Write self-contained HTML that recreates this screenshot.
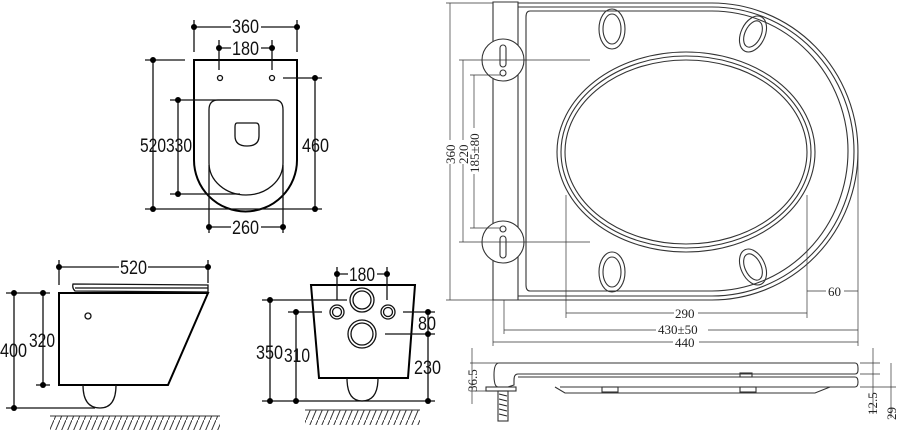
<!DOCTYPE html>
<html><head><meta charset="utf-8"><style>
html,body{margin:0;padding:0;background:#fff;}
svg{display:block;}
.d{stroke:#111;stroke-width:1.3;fill:none}
.b{stroke:#000;stroke-width:2;fill:none}
.t{font-family:"Liberation Sans",sans-serif;font-size:19px;fill:#111;}
.s{font-family:"Liberation Serif",serif;font-size:13px;fill:#222;}
.g{stroke:#333;stroke-width:0.7;fill:none}
.f{stroke:#333;stroke-width:1.1;fill:none}
</style></head><body>
<svg width="900" height="431" viewBox="0 0 900 431" xmlns="http://www.w3.org/2000/svg">
<defs>
<pattern id="h" width="6" height="14" patternUnits="userSpaceOnUse"><line x1="6" y1="0" x2="0" y2="14" stroke="#333" stroke-width="1"/></pattern>
</defs>
<!-- TOP LEFT VIEW -->
<path class="b" d="M194,60 H297 V160 A51.5,51.5 0 0 1 194,160 Z"/>
<path class="d" d="M218,100 H275 Q283,100 283,110 V163 A37,32 0 0 1 209,163 V110 Q209,100 218,100 Z"/>
<path class="d" d="M237,123 H256 Q259,123 259,127 V136 Q259,146 247,146 Q235,146 235,136 V127 Q235,123 237,123Z"/>
<circle cx="220" cy="78" r="2.5" class="d"/><circle cx="272" cy="78" r="2.5" class="d"/>
<g class="d">
<line x1="194" y1="27" x2="297" y2="27"/><line x1="194" y1="20" x2="194" y2="52"/><line x1="297" y1="20" x2="297" y2="52"/>
<line x1="219" y1="48" x2="272" y2="48"/><line x1="219" y1="40" x2="219" y2="70"/><line x1="272" y1="40" x2="272" y2="70"/>
<line x1="153" y1="60" x2="153" y2="209"/><line x1="145" y1="60" x2="185" y2="60"/><line x1="145" y1="209" x2="322" y2="209"/>
<line x1="178" y1="100" x2="178" y2="194"/><line x1="170" y1="100" x2="240" y2="100"/><line x1="170" y1="194" x2="240" y2="194"/>
<line x1="315" y1="78" x2="315" y2="209"/><line x1="283" y1="78" x2="322" y2="78"/>
<line x1="209" y1="227" x2="283" y2="227"/><line x1="209" y1="165" x2="209" y2="233"/><line x1="283" y1="165" x2="283" y2="233"/>
</g>
<g fill="#000">
<circle cx="194" cy="27" r="3"/><circle cx="297" cy="27" r="3"/><circle cx="219" cy="48" r="3"/><circle cx="272" cy="48" r="3"/>
<circle cx="153" cy="60" r="3"/><circle cx="153" cy="209" r="3"/><circle cx="178" cy="100" r="3"/><circle cx="178" cy="194" r="3"/>
<circle cx="315" cy="78" r="3"/><circle cx="315" cy="209" r="3"/><circle cx="209" cy="227" r="3"/><circle cx="283" cy="227" r="3"/>
</g>
<g class="t">
<rect x="231" y="18" width="30" height="18" fill="#fff"/><text x="232" y="33" textLength="27" lengthAdjust="spacingAndGlyphs">360</text>
<rect x="231" y="40" width="30" height="16" fill="#fff"/><text x="232" y="55" textLength="27" lengthAdjust="spacingAndGlyphs">180</text>
<text x="140" y="152" textLength="26" lengthAdjust="spacingAndGlyphs">520</text>
<text x="166" y="152" textLength="26" lengthAdjust="spacingAndGlyphs">330</text>
<text x="302" y="152" textLength="27" lengthAdjust="spacingAndGlyphs">460</text>
<rect x="231" y="219" width="30" height="16" fill="#fff"/><text x="232" y="234" textLength="27" lengthAdjust="spacingAndGlyphs">260</text>
</g>
<!-- SIDE VIEW -->
<path class="b" d="M59,293 H208 L168,385 H59 Z"/>
<path class="d" d="M73,284 L208,285 L208,292 L75,291 Q72,288 73,284Z"/><line class="d" x1="75" y1="288" x2="208" y2="288"/>
<path class="d" d="M83,385 Q83,408 100,408 Q116,408 116,385"/>
<circle cx="88" cy="316" r="3" class="d"/>
<g class="d">
<line x1="59" y1="267" x2="208" y2="267"/><line x1="59" y1="260" x2="59" y2="285"/><line x1="208" y1="260" x2="208" y2="283"/>
<line x1="14" y1="293" x2="14" y2="408"/><line x1="6" y1="293" x2="50" y2="293"/><line x1="6" y1="408" x2="95" y2="408"/>
<line x1="43" y1="293" x2="43" y2="385"/><line x1="36" y1="385" x2="50" y2="385"/>
</g>
<g fill="#000"><circle cx="59" cy="267" r="3"/><circle cx="208" cy="267" r="3"/><circle cx="14" cy="293" r="3"/><circle cx="14" cy="408" r="3"/><circle cx="43" cy="293" r="3"/><circle cx="43" cy="385" r="3"/></g>
<line x1="50" y1="416" x2="220" y2="416" stroke="#333"/><rect x="50" y="416" width="170" height="14" fill="url(#h)"/>
<g class="t"><rect x="119" y="258" width="29" height="18" fill="#fff"/><text x="120" y="274" textLength="27" lengthAdjust="spacingAndGlyphs">520</text>
<text x="0" y="357" textLength="27" lengthAdjust="spacingAndGlyphs">400</text>
<text x="29" y="347" textLength="26" lengthAdjust="spacingAndGlyphs">320</text></g>
<!-- FRONT VIEW -->
<path class="b" d="M311,285 H415 L408,378 H319 Z"/>
<path class="d" d="M347,378 Q347,401 362,401 Q378,401 378,378"/>
<g class="d"><circle cx="362" cy="300" r="12"/><circle cx="362" cy="300" r="9"/><circle cx="337" cy="312" r="7"/><circle cx="337" cy="312" r="4.5"/><circle cx="388" cy="312" r="7"/><circle cx="388" cy="312" r="4.5"/><circle cx="362" cy="334" r="14"/><circle cx="362" cy="334" r="11"/></g>
<g class="d">
<line x1="337" y1="274" x2="387" y2="274"/><line x1="337" y1="267" x2="337" y2="300"/><line x1="387" y1="267" x2="387" y2="300"/>
<line x1="270" y1="300" x2="270" y2="401"/><line x1="262" y1="300" x2="347" y2="300"/><line x1="262" y1="401" x2="435" y2="401"/>
<line x1="296" y1="312" x2="296" y2="401"/><line x1="288" y1="312" x2="322" y2="312"/>
<line x1="428" y1="312" x2="428" y2="334"/><line x1="403" y1="312" x2="435" y2="312"/><line x1="385" y1="334" x2="435" y2="334"/><line x1="428" y1="334" x2="428" y2="401"/>
</g>
<g fill="#000"><circle cx="337" cy="274" r="3"/><circle cx="387" cy="274" r="3"/><circle cx="270" cy="300" r="3"/><circle cx="270" cy="401" r="3"/><circle cx="296" cy="312" r="3"/><circle cx="296" cy="401" r="3"/><circle cx="428" cy="312" r="3"/><circle cx="428" cy="334" r="3"/><circle cx="428" cy="401" r="3"/></g>
<line x1="305" y1="410" x2="420" y2="410" stroke="#333"/><rect x="305" y="410" width="115" height="15" fill="url(#h)"/>
<g class="t"><rect x="348" y="266" width="29" height="16" fill="#fff"/><text x="349" y="281" textLength="26" lengthAdjust="spacingAndGlyphs">180</text>
<text x="256" y="359" textLength="27" lengthAdjust="spacingAndGlyphs">350</text>
<text x="284" y="362" textLength="26" lengthAdjust="spacingAndGlyphs">310</text>
<text x="418" y="330" textLength="18" lengthAdjust="spacingAndGlyphs">80</text>
<text x="414" y="374" textLength="27" lengthAdjust="spacingAndGlyphs">230</text></g>
<!-- SEAT TOP VIEW -->
<g class="f">
<path d="M493,2 H518 V300 H493 Z"/>
<path d="M518,3 H712 A146,148.5 0 0 1 712,300 H518"/>
<path d="M518,7 H712 A142,144.5 0 0 1 712,296 H518"/>
<path d="M530,11 H712 A136,140 0 0 1 712,291 H530 Q526,291 526,285 V17 Q526,11 530,11Z"/>
<ellipse cx="686" cy="152" rx="129" ry="100"/><ellipse cx="686" cy="152" rx="125" ry="96"/><ellipse cx="686" cy="152" rx="121" ry="92"/>
<ellipse cx="612" cy="29" rx="13" ry="20"/><ellipse cx="612" cy="29" rx="9" ry="15"/>
<ellipse cx="753" cy="34" rx="12" ry="19" transform="rotate(25 753 34)"/><ellipse cx="753" cy="34" rx="8" ry="14" transform="rotate(25 753 34)"/>
<ellipse cx="612" cy="272" rx="13" ry="20"/><ellipse cx="612" cy="272" rx="9" ry="15"/>
<ellipse cx="753" cy="267" rx="12" ry="19" transform="rotate(-25 753 267)"/><ellipse cx="753" cy="267" rx="8" ry="14" transform="rotate(-25 753 267)"/>
<circle cx="503" cy="60" r="21" fill="#fff"/><rect x="500" y="45" width="6" height="22" rx="3"/><circle cx="503" cy="73" r="3"/>
<circle cx="503" cy="242" r="21" fill="#fff"/><rect x="500" y="236" width="6" height="22" rx="3"/><circle cx="503" cy="229" r="3"/>
</g>
<g class="g">
<line x1="450" y1="3" x2="450" y2="300"/><line x1="446" y1="3" x2="493" y2="3"/><line x1="446" y1="300" x2="493" y2="300"/>
<line x1="463" y1="60" x2="463" y2="242"/><line x1="459" y1="60" x2="590" y2="60"/><line x1="459" y1="242" x2="590" y2="242"/>
<line x1="474" y1="75" x2="474" y2="228"/><line x1="470" y1="75" x2="500" y2="75"/><line x1="470" y1="228" x2="500" y2="228"/>
<line x1="566" y1="195" x2="566" y2="318"/><line x1="807" y1="195" x2="807" y2="318"/><line x1="858" y1="150" x2="858" y2="346"/>
<line x1="493" y1="300" x2="493" y2="346"/><line x1="504" y1="300" x2="504" y2="334"/>
<line x1="566" y1="313" x2="807" y2="313"/><line x1="504" y1="330" x2="858" y2="330"/><line x1="493" y1="342" x2="858" y2="342"/><line x1="807" y1="291" x2="858" y2="291"/>
</g>
<g class="s">
<rect x="444" y="140" width="12" height="24" fill="#fff"/><text transform="translate(455,164) rotate(-90)">360</text>
<rect x="457" y="140" width="12" height="24" fill="#fff"/><text transform="translate(468,164) rotate(-90)">220</text>
<rect x="468" y="128" width="12" height="46" fill="#fff"/><text transform="translate(479,173) rotate(-90)">185±80</text>
<rect x="674" y="306" width="24" height="12" fill="#fff"/><text x="675" y="318">290</text>
<rect x="656" y="322" width="52" height="14" fill="#fff"/><text x="658" y="334">430±50</text>
<rect x="673" y="336" width="26" height="12" fill="#fff"/><text x="675" y="347">440</text>
<rect x="826" y="285" width="18" height="12" fill="#fff"/><text x="828" y="296">60</text>
<text transform="translate(477,392) rotate(-90)">36.5</text>
<text transform="translate(877,415) rotate(-90)">12.5</text>
<text transform="translate(896,420) rotate(-90)">29</text>
</g>
<!-- SEAT SIDE VIEW -->
<g class="f">
<path d="M499,363 H855 Q858,363 858,368 V370 Q858,374 855,374 H518 Q514,374 514,380 V385 L508,387 H498 Q494,387 494,375 Q494,363 499,363Z"/>
<path d="M518,377 H855 Q858,377 858,382 Q858,387 855,387 H560"/>
<path d="M555,387 L565,393 H815 L830,387"/>
<rect x="486" y="387" width="30" height="4"/>
<rect x="602" y="387" width="16" height="5"/><rect x="740" y="387" width="16" height="5"/><rect x="740" y="373" width="12" height="4"/>
<rect x="498" y="391" width="10" height="30"/>
</g>
<g stroke="#222" stroke-width="1"><line x1="499" y1="394" x2="507" y2="396"/><line x1="499" y1="399" x2="507" y2="401"/><line x1="499" y1="404" x2="507" y2="406"/><line x1="499" y1="409" x2="507" y2="411"/><line x1="499" y1="414" x2="507" y2="416"/></g>
<g class="g">
<line x1="472" y1="348" x2="472" y2="404"/><line x1="470" y1="363" x2="500" y2="363"/><line x1="470" y1="391" x2="490" y2="391"/>
<line x1="873" y1="348" x2="873" y2="414"/><line x1="860" y1="363" x2="880" y2="363"/><line x1="860" y1="374" x2="880" y2="374"/>
<line x1="891" y1="363" x2="891" y2="418"/><line x1="860" y1="387" x2="896" y2="387"/>
</g>
</svg>
</body></html>
